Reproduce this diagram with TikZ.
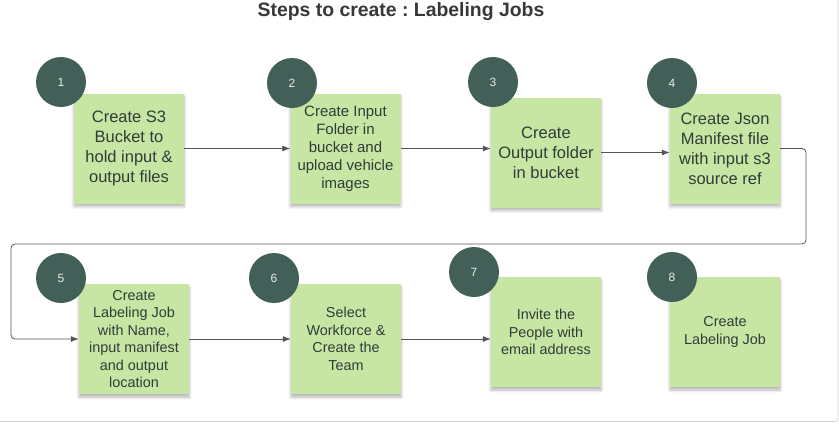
\documentclass[tikz,border=0pt]{standalone}
\usepackage{fontspec}
\setmainfont{Liberation Sans}
\frenchspacing
\usetikzlibrary{arrows.meta, positioning, shadows.blur}

\definecolor{notegreen}{RGB}{199,230,164}
\definecolor{badge}{RGB}{66,95,88}
\definecolor{inktext}{RGB}{47,60,55}
\definecolor{linegray}{RGB}{85,85,85}

\begin{document}
\begin{tikzpicture}[
    x=1pt, y=-1pt,
    note/.style={rectangle, fill=notegreen, minimum width=110pt, minimum height=110pt, align=center, text=inktext, inner sep=2pt,
        blur shadow={shadow xshift=0pt, shadow yshift=-3pt, shadow blur radius=3pt, shadow blur steps=6, shadow opacity=30}},
    bigtxt/.style={font=\fontsize{16.5}{20}\selectfont},
    midtxt/.style={font=\fontsize{15}{18}\selectfont},
    smalltxt/.style={font=\fontsize{14.4}{17.5}\selectfont},
    badge/.style={circle, fill=badge, minimum size=50pt, inner sep=0pt, text=white!88!badge, font=\fontsize{12}{14}\selectfont},
    flow/.style={-{Latex[length=8pt, width=6pt]}, draw=linegray, line width=0.8pt}
]
    \useasboundingbox (0,0) rectangle (839,424);
    \draw[gray!35, line width=0.8pt, rounded corners=3pt] (838,0) |- (0,421.5);

    \node[font=\bfseries\fontsize{19.4}{22}\selectfont, text=black!78] (title) at (401,12) {Steps to create : Labeling Jobs};

    % first row
    \node[note, bigtxt] (n1) at (129,148.5) {Create S3\\Bucket to\\hold input \&\\output files};
    \node[note, midtxt] (n2) at (345.5,148.5) {Create Input\\Folder in\\bucket and\\upload vehicle\\images};
    \node[note, bigtxt] (n3) at (546,152.5) {Create\\Output folder\\in bucket};
    \node[note, bigtxt] (n4) at (725,148.5) {Create Json\\Manifest file\\with input s3\\source ref};

    % second row
    \node[note, smalltxt] (n5) at (134,339) {Create\\Labeling Job\\with Name,\\input manifest\\and output\\location};
    \node[note, smalltxt] (n6) at (346,339) {Select\\Workforce \&\\Create the\\Team};
    \node[note, smalltxt] (n7) at (546,332) {Invite the\\People with\\email address};
    \node[note, smalltxt] (n8) at (725,332) {Create\\Labeling Job};

    % step numbers
    \node[badge] (b1) at (61,82) {1};
    \node[badge] (b2) at (292,83) {2};
    \node[badge] (b3) at (493,82) {3};
    \node[badge] (b4) at (672,83) {4};
    \node[badge] (b5) at (61,278) {5};
    \node[badge] (b6) at (274,278) {6};
    \node[badge] (b7) at (474,272) {7};
    \node[badge] (b8) at (672,277) {8};

    \draw[flow] (n1.east) -- (n1.east -| n2.west);
    \draw[flow] (n2.east) -- (n2.east -| n3.west);
    \draw[flow] (n3.east) -- (n3.east -| n4.west);

    \coordinate (turnR) at (806,244);
    \coordinate (turnL) at (11,244);
    \draw[flow, rounded corners=4pt] (n4.east) -| (turnR) -- (turnL) |- (n5.west);

    \draw[flow] (n5.east) -- (n5.east -| n6.west);
    \draw[flow] (n6.east) -- (n6.east -| n7.west);
\end{tikzpicture}
\end{document}
